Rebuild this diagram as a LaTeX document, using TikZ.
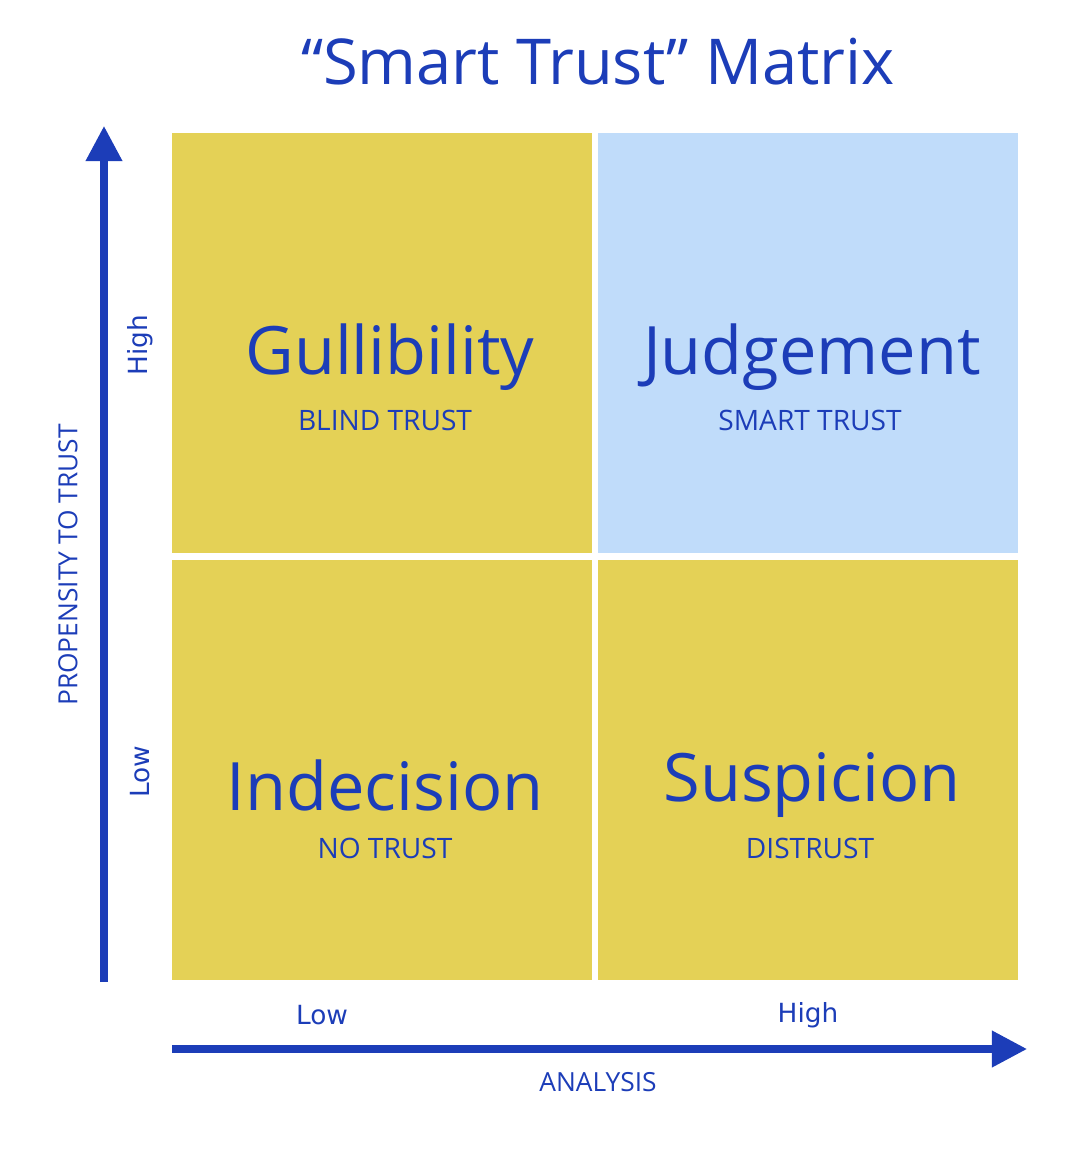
\documentclass[tikz,border=0pt]{standalone}
\usepackage{fontspec}
\setmainfont{Open Sans}
\newfontfamily\tickfont{DejaVu Sans}
\usetikzlibrary{arrows.meta, positioning}
\definecolor{quadyellow}{HTML}{E4D156}
\definecolor{quadblue}{HTML}{C0DCFA}
\definecolor{inkblue}{HTML}{1C3DB8}
\tikzset{
  quad/.style={minimum width=8.4cm, minimum height=8.4cm, inner sep=0, anchor=north west},
  bigword/.style={text=inkblue, font=\fontsize{38}{42}\selectfont},
  subword/.style={text=inkblue, font=\fontsize{16}{19}\selectfont},
  axislabel/.style={text=inkblue, font=\fontsize{15}{18}\selectfont},
  ticklabel/.style={text=inkblue, font=\tickfont\fontsize{15}{18}\selectfont},
  axisarrow/.style={draw=inkblue, line width=4pt, -{Triangle[length=20pt,width=20pt]}}
}
\begin{document}
\begin{tikzpicture}[x=0.02cm, y=-0.02cm]
  \useasboundingbox (0,0) rectangle (1068,1153);
  \node (title) [text=inkblue, font=\fontsize{36}{40}\selectfont] at (598,62) {“Smart Trust” Matrix};

  % quadrants
  \node (gull-box) [quad, fill=quadyellow] at (172,133) {};
  \node (judg-box) [quad, fill=quadblue] at (598,133) {};
  \node (inde-box) [quad, fill=quadyellow] at (172,560) {};
  \node (susp-box) [quad, fill=quadyellow] at (598,560) {};

  \node (gull) [bigword] at (390,357) {Gullibility};
  \node (gull-sub) [subword] at (385,420) {BLIND TRUST};
  \node (judg) [bigword] at (812,357) {Judgement};
  \node (judg-sub) [subword] at (810,420) {SMART TRUST};
  \node (inde) [bigword] at (385,785) {Indecision};
  \node (inde-sub) [subword] at (385,848) {NO TRUST};
  \node (susp) [bigword] at (812,785) {Suspicion};
  \node (susp-sub) [subword] at (810,848) {DISTRUST};

  % axes
  \coordinate (y-start) at (104,982);
  \coordinate (y-end) at (104,126);
  \coordinate (x-start) at (172,1049);
  \coordinate (x-end) at (1027,1049);
  \draw [axisarrow] (y-start) -- (y-end);
  \draw [axisarrow] (x-start) -- (x-end);

  \node (y-high) [ticklabel, rotate=90] at (140,345) {High};
  \node (y-low) [ticklabel, rotate=90] at (140,772) {Low};
  \node (y-name) [axislabel, rotate=90] at (68,565) {PROPENSITY TO TRUST};
  \node (x-low) [ticklabel] at (322,1015) {Low};
  \node (x-high) [ticklabel] at (808,1015) {High};
  \node (x-name) [axislabel] at (598,1082) {ANALYSIS};
\end{tikzpicture}
\end{document}
